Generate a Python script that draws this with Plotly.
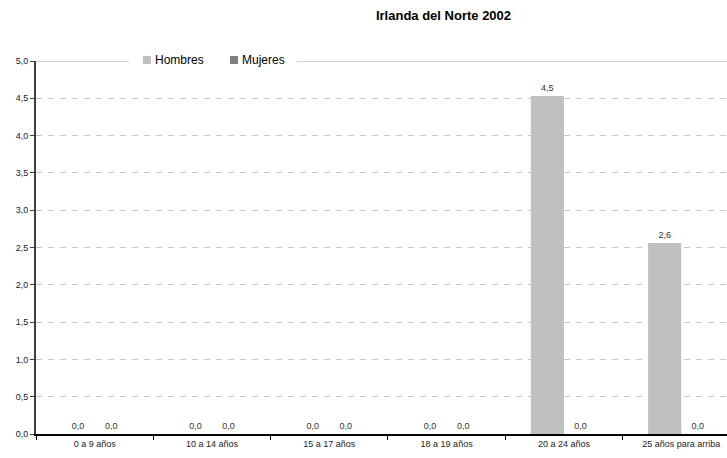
import plotly.graph_objects as go

categories = ["0 a 9 años", "10 a 14 años", "15 a 17 años", "18 a 19 años",
              "20 a 24 años", "25 años para arriba"]
hombres = [0.0, 0.0, 0.0, 0.0, 4.53, 2.56]
mujeres = [0.0, 0.0, 0.0, 0.0, 0.0, 0.0]
y_ticks = [0, 0.5, 1, 1.5, 2, 2.5, 3, 3.5, 4, 4.5, 5]

series = [("Hombres", hombres, "#c0c0c0"), ("Mujeres", mujeres, "#808080")]

font = "Liberation Sans, Arial, sans-serif"
W, H = 727, 458
L, T, B = 36, 61, 24
plot_w, plot_h = W - L, H - T - B


def px_x(px):
    return (px - L) / plot_w


def px_y(py):
    return (H - B - py) / plot_h


fig = go.Figure()
for name, vals, color in series:
    fig.add_trace(go.Bar(
        name=name, x=categories, y=vals,
        marker=dict(color=color, line=dict(width=0)),
        text=[f"{v:.1f}".replace(".", ",") for v in vals],
        textposition="outside", cliponaxis=False,
        textfont=dict(size=9, color="#333333", family=font),
        showlegend=False,
    ))

# solid top border at 5,0, broken where the legend sits
for x0, x1 in [(0, px_x(129)), (px_x(297), 1)]:
    fig.add_shape(type="line", xref="paper", yref="y", x0=x0, x1=x1, y0=5, y1=5,
                  line=dict(color="#a0a0a0", width=1), layer="below")

# legend entries: small square swatch followed by the series name
legend_x = [143, 230]
legend_yc = 60
for (name, _, color), lx in zip(series, legend_x):
    fig.add_shape(type="rect", xref="paper", yref="paper",
                  x0=px_x(lx), x1=px_x(lx + 8),
                  y0=px_y(legend_yc + 4), y1=px_y(legend_yc - 4),
                  fillcolor=color, line=dict(width=0))
    fig.add_annotation(text=name, xref="paper", yref="paper",
                       x=px_x(lx + 10), y=px_y(legend_yc), xanchor="left",
                       yanchor="middle", showarrow=False,
                       font=dict(size=12, color="#000000", family=font))

fig.update_layout(
    width=W, height=H,
    margin=dict(l=L, r=0, t=T, b=B),
    paper_bgcolor="white", plot_bgcolor="white",
    separators=",.",
    barmode="group", bargap=0.435, bargroupgap=0,
    font=dict(family=font, size=9, color="#222222"),
    title=dict(text="<b>Irlanda del Norte 2002</b>", x=443.5 / W, xanchor="center",
               y=1 - 15 / H, yanchor="middle",
               font=dict(size=13, color="#000000", family=font)),
    showlegend=False,
    xaxis=dict(
        type="category", range=[-0.5, 5.39],
        showline=True, linecolor="#000000", linewidth=1.5,
        ticks="outside", tickson="boundaries", ticklen=4, tickcolor="#000000",
        tickfont=dict(size=9, color="#222222"),
        showgrid=False,
    ),
    yaxis=dict(
        range=[0, 5], tickvals=y_ticks, tickformat=".1f",
        showline=True, linecolor="#404040", linewidth=2,
        ticks="outside", ticklen=4, tickcolor="#404040",
        tickfont=dict(size=9, color="#222222"),
        showgrid=True, gridcolor="#c8c8c8", griddash="6px,6px", gridwidth=1,
        zeroline=False,
    ),
)

fig.write_html("out.html")
